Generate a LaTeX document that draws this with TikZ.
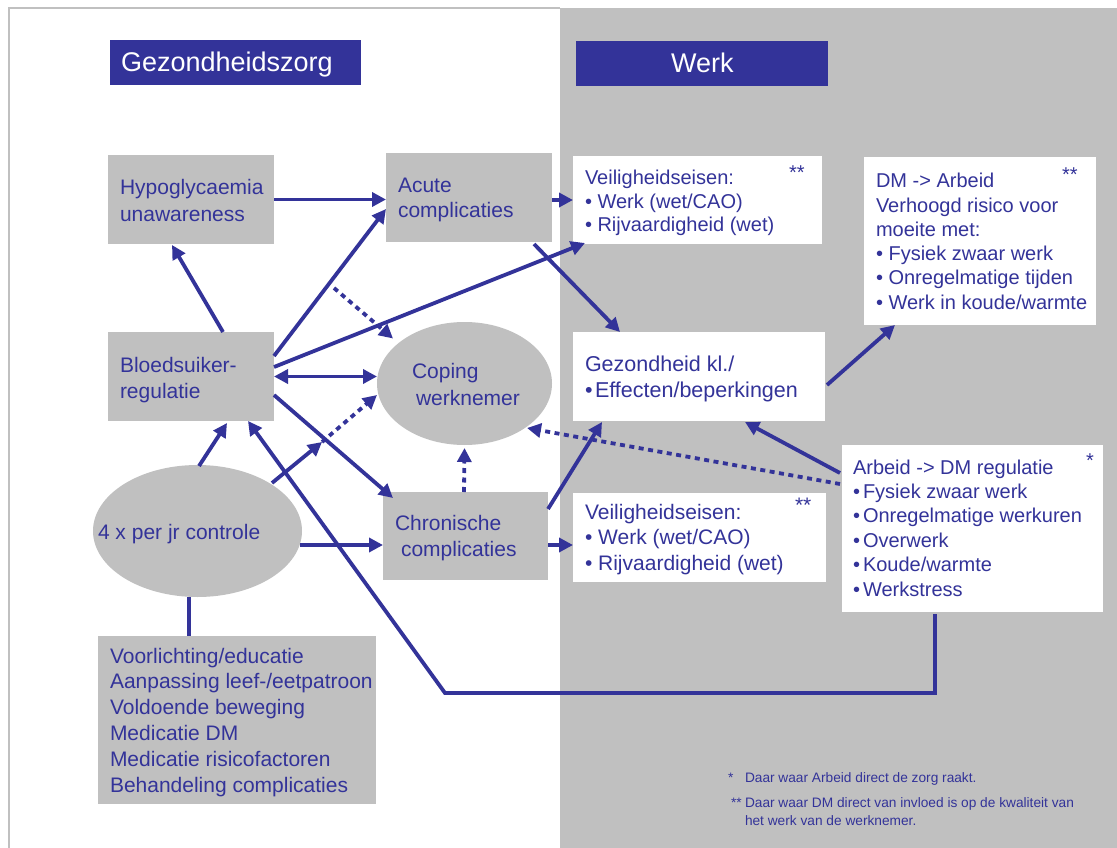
\documentclass[tikz,border=0pt]{standalone}
\usepackage{fontspec}
\setmainfont{Liberation Sans}
\usetikzlibrary{arrows.meta,calc,shapes.geometric}
\definecolor{dblue}{RGB}{51,51,153}
\definecolor{lgray}{RGB}{192,192,192}
\begin{document}
\begin{tikzpicture}[x=1pt,y=-1pt,
  gbox/.style={rectangle, fill=lgray, draw=none, inner sep=0pt, outer sep=0pt},
  wbox/.style={rectangle, fill=white, draw=none, inner sep=0pt, outer sep=0pt},
  gell/.style={ellipse, fill=lgray, draw=none, inner sep=0pt, outer sep=0pt},
  hbox/.style={rectangle, fill=dblue, draw=none, inner sep=0pt, outer sep=0pt},
  txt/.style={inner sep=0pt, outer sep=0pt, anchor=base west, text=dblue},
  htxt/.style={inner sep=0pt, outer sep=0pt, anchor=base west, text=white, font=\fontsize{27}{32}\selectfont},
  f20/.style={font=\fontsize{20}{24}\selectfont},
  f21/.style={font=\fontsize{21}{25}\selectfont},
  f215/.style={font=\fontsize{21.5}{26}\selectfont},
  fn/.style={font=\fontsize{13.7}{16}\selectfont},
  conn/.style={draw=dblue, line width=3.8pt, -{Triangle[length=14pt,width=14pt]}},
  conn2/.style={draw=dblue, line width=3.8pt, {Triangle[length=14pt,width=14pt]}-{Triangle[length=14pt,width=14pt]}},
  plain/.style={draw=dblue, line width=3.8pt},
  dots/.style={conn, dash pattern=on 5pt off 4.5pt}
]
\useasboundingbox (0,0) rectangle (1117,848);
\fill[white] (0,0) rectangle (1117,848);
\fill[lgray] (560,8) rectangle (1117,848);
\draw[lgray, line width=1.5pt] (9,848) -- (9,8) -- (560,8);

% headers
\node[hbox, minimum width=251pt, minimum height=45pt] (hdr1) at (235.5,62.5) {};
\node[htxt] (hdr1t) at (121,72) {Gezondheidszorg};
\node[hbox, minimum width=252pt, minimum height=45pt] (hdr2) at (702,63.5) {};
\node[htxt] (hdr2t) at (671,73) {Werk};

% grey boxes and ellipses
\node[gbox, minimum width=166pt, minimum height=89pt] (hypo) at (191,199.5) {};
\node[gbox, minimum width=166pt, minimum height=89pt] (bloed) at (191,376.5) {};
\node[gbox, minimum width=166pt, minimum height=89pt] (acute) at (469,197.5) {};
\node[gell, minimum width=175pt, minimum height=123pt] (coping) at (464.5,383.5) {};
\node[gbox, minimum width=165pt, minimum height=88pt] (chron) at (465.5,536) {};
\node[gell, minimum width=209pt, minimum height=132pt] (ctrl) at (197.5,531) {};
\node[gbox, minimum width=278pt, minimum height=168pt] (voor) at (237,720) {};

% white boxes
\node[wbox, minimum width=249pt, minimum height=88pt] (veil1) at (697.5,200) {};
\node[wbox, minimum width=232pt, minimum height=168pt] (dmarb) at (980,241) {};
\node[wbox, minimum width=252pt, minimum height=89pt] (gez) at (699,376.5) {};
\node[wbox, minimum width=261pt, minimum height=167pt] (arbdm) at (972.5,528.5) {};
\node[wbox, minimum width=253pt, minimum height=89pt] (veil2) at (699.5,537.5) {};

% texts
\foreach \s [count=\i from 0] in {{Hypoglycaemia},{unawareness}}
  \node[txt,f21] (hypoT\i) at (120,{195+26*\i}) {\s};
\foreach \s [count=\i from 0] in {{Bloedsuiker-},{regulatie}}
  \node[txt,f21] (bloedT\i) at (120,{372+26*\i}) {\s};
\foreach \s [count=\i from 0] in {{Acute},{complicaties}}
  \node[txt,f21] (acuteT\i) at (398,{193+25*\i}) {\s};
\node[txt,f21] (copT0) at (412,378) {Coping};
\node[txt,f21] (copT1) at (416,405) {werknemer};
\node[txt,f21] (chronT0) at (395,530) {Chronische};
\node[txt,f21] (chronT1) at (401,556) {complicaties};
\node[txt,f21] (ctrlT) at (98,539) {4 x per jr controle};
\foreach \s [count=\i from 0] in {{Voorlichting/educatie},{Aanpassing leef-/eetpatroon},{Voldoende beweging},{Medicatie DM},{Medicatie risicofactoren},{Behandeling complicaties}}
  \node[txt,f21] (voorT\i) at (110,{663+25.8*\i}) {\s};

\foreach \s [count=\i from 0] in {{Veiligheidseisen:},{• Werk (wet/CAO)},{• Rijvaardigheid (wet)}}
  \node[txt,f20] (veilAT\i) at (585,{185+23*\i}) {\s};
\node[txt,f20] (veilAs) at (789,179) {**};

\foreach \s [count=\i from 0] in {{DM -> Arbeid},{Verhoogd risico voor},{moeite met:},{• Fysiek zwaar werk},{• Onregelmatige tijden},{• Werk in koude/warmte}}
  \node[txt,f20] (dmT\i) at (876,{188+24.2*\i}) {\s};
\node[txt,f20] (dms) at (1062,182) {**};

\node[txt,f215] (gezT0) at (585,371) {Gezondheid kl./};
\node[txt,f215] (gezT1) at (585,397) {•\kern2.5pt Effecten/beperkingen};

\foreach \s [count=\i from 0] in {{Arbeid -> DM regulatie},{•\kern3pt Fysiek zwaar werk},{•\kern3pt Onregelmatige werkuren},{•\kern3pt Overwerk},{•\kern3pt Koude/warmte},{•\kern3pt Werkstress}}
  \node[txt,f20] (arbT\i) at (853,{474+24.4*\i}) {\s};
\node[txt,f20] (arbs) at (1086,467) {*};

\foreach \s [count=\i from 0] in {{Veiligheidseisen:},{• Werk (wet/CAO)},{• Rijvaardigheid (wet)}}
  \node[txt,f21] (veilBT\i) at (585,{519+25.5*\i}) {\s};
\node[txt,f21] (veilBs) at (795,512) {**};

% footnotes
\node[txt,fn] (fn1s) at (728,782) {*};
\node[txt,fn] (fn1) at (745,782) {Daar waar Arbeid direct de zorg raakt.};
\node[txt,fn] (fn2s) at (731,807) {**};
\node[txt,fn] (fn2) at (745,807) {Daar waar DM direct van invloed is op de kwaliteit van};
\node[txt,fn] (fn3) at (745,825) {het werk van de werknemer.};

% connectors
\coordinate (dA) at (334,288);
\coordinate (mid) at (322,442);
\coordinate (c1) at (935,693);
\coordinate (c2) at (445,693);

\draw[conn] (hypo.east) -- (hypo.east -| acute.west);
\draw[conn] ($(bloed.north)+(32,0)$) -- ($(hypo.south)+(-19,1)$);
\draw[conn] ($(bloed.north east)+(0,24)$) -- ($(acute.south west)+(0,-33)$);
\draw[conn] ($(bloed.north east)+(0,35)$) -- ($(veil1.south west)+(12,-1)$);
\draw[conn2] (bloed.east) -- (bloed.east -| coping.west);
\draw[conn] ($(bloed.south east)+(0,-26)$) -- ($(chron.north west)+(10,6)$);
\draw[dots] (dA) -- ($(coping.center)+(-71.5,-45)$);
\draw[conn] ($(ctrl.center)+(74.5,-48)$) -- (mid);
\draw[dots] (mid) -- ($(coping.center)+(-87.5,11.5)$);
\draw[conn] ($(ctrl.north)+(1.5,1)$) -- ($(bloed.south)+(36,2)$);
\draw[conn] ($(arbdm.south)+(-37.5,2)$) -- (c1) -- (c2) -- ($(bloed.south)+(57,0)$);
\draw[conn] ($(ctrl.east)+(-2,14)$) -- ($(chron.west)+(0,9)$);
\draw[plain] ($(ctrl.south)+(-8.5,0)$) -- ($(voor.north)+(-48,0)$);
\draw[conn] (veil1.west -| acute.east) -- (veil1.west);
\draw[conn] ($(acute.south east)+(-18,2)$) -- ($(gez.north west)+(47,0)$);
\draw[dots] ($(chron.north)+(-1.5,0)$) -- ($(coping.south)+(0,3)$);
\draw[conn] ($(chron.north east)+(0,17)$) -- ($(gez.south west)+(29,1)$);
\draw[conn] ($(chron.east)+(0,9)$) -- ($(veil2.west)+(0,7.5)$);
\draw[conn] ($(gez.east)+(2,8.5)$) -- ($(dmarb.south west)+(31,0)$);
\draw[conn] ($(arbdm.north west)+(-2,28)$) -- ($(gez.south)+(46,1)$);
\draw[dots] ($(arbdm.north west)+(-2,39)$) -- ($(coping.center)+(62.5,44.5)$);
\end{tikzpicture}
\end{document}
